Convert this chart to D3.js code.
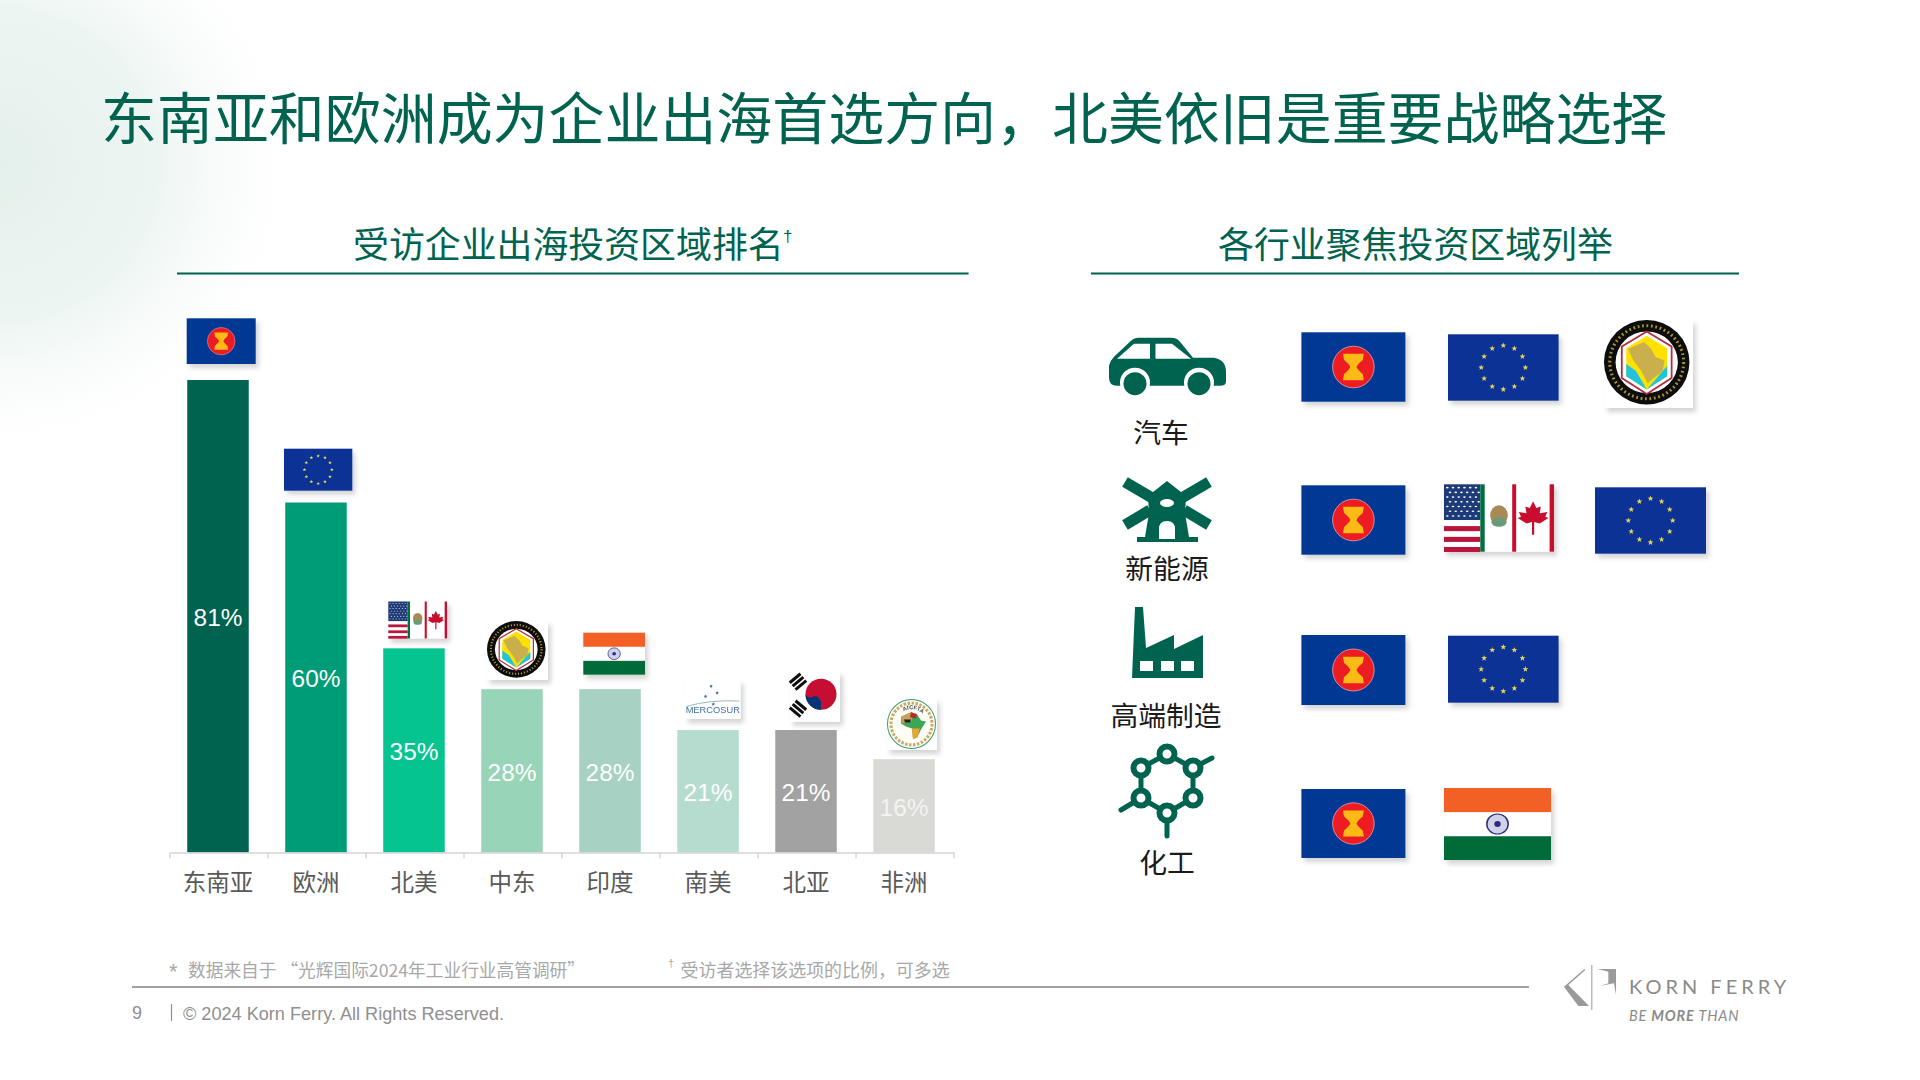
<!DOCTYPE html>
<html><head><meta charset="utf-8">
<script src="https://cdn.jsdelivr.net/npm/d3@7/dist/d3.min.js"></script>
<style>html,body{margin:0;background:#fff}svg{display:block}
text{font-family:"Noto Sans CJK SC","Liberation Sans",sans-serif}
.lat{font-family:"Liberation Sans",Arial,sans-serif}</style></head>
<body><svg id="c" width="1920" height="1080"></svg>
<script>
const titleText="东南亚和欧洲成为企业出海首选方向，北美依旧是重要战略选择";
const leftTitle="受访企业出海投资区域排名", rightTitle="各行业聚焦投资区域列举";
const categories=["东南亚","欧洲","北美","中东","印度","南美","北亚","非洲"];
const values=[81,60,35,28,28,21,21,16];
const barColors=["#00634f","#009b77","#05c48f","#98d5b8","#a6d1c3","#b6dccf","#a2a2a2","#d9d9d6"];
const barFlags=["asean","eu","usmca","gcc","india","mercosur","korea","afcfta"];
const barFlagBoxes=[[186.7,318.3,69,45.7],[284,448.7,68.3,42],[388.3,601.5,58.7,37],[487,621,61,59],[583.3,632.7,61.7,42],[685,680,55.5,39],[790,671.7,50,50],[887,699,50,51]];
const industries=["汽车","新能源","高端制造","化工"];
const industryLabelX=[1161,1167,1166,1167], industryLabelY=[432.5,569,716,863];
const industryFlags=[["asean","eu","gcc"],["asean","usmca","eu"],["asean","eu"],["asean","india"]];
const industryBoxes=[
 [[1301.4,332.3,104,69.4],[1448,334.3,110.6,66.4],[1604,320,89,88]],
 [[1301.4,485.3,104,69.4],[1444,484.3,110,67.4],[1595,487.3,111,66.4]],
 [[1301.4,635,104,70],[1448,635.7,110.6,67]],
 [[1301.4,789,104,69],[1444,788,107,72]]];
const footnote1="数据来自于 “光辉国际2024年工业行业高管调研”", footnote2="受访者选择该选项的比例，可多选";
const copyright="© 2024 Korn Ferry. All Rights Reserved.";

const GREEN="#00634f";
const svg=d3.select("#c");
const defs=svg.append("defs");
const rg=defs.append("radialGradient").attr("id","bg");
[[0,"#e4f0eb",1],[.55,"#e9f3ef",.85],[1,"#f6faf8",0]].forEach(s=>rg.append("stop").attr("offset",s[0]).attr("stop-color",s[1]).attr("stop-opacity",s[2]));
const sf=defs.append("filter").attr("id","sh").attr("x","-20%").attr("y","-20%").attr("width","150%").attr("height","150%");
sf.append("feDropShadow").attr("dx",3).attr("dy",4).attr("stdDeviation",2.5).attr("flood-color","#000").attr("flood-opacity",.17);

svg.append("ellipse").attr("cx",-10).attr("cy",165).attr("rx",300).attr("ry",280).attr("fill","url(#bg)");

// Titles
svg.append("text").attr("x",101).attr("y",119).attr("dy",".36em").attr("font-size",55.95).attr("fill",GREEN).text(titleText);
svg.append("text").attr("x",353).attr("y",245).attr("dy",".36em").attr("font-size",35.9).attr("fill",GREEN).text(leftTitle);
svg.append("text").attr("class","lat").attr("x",783).attr("y",242).attr("font-size",17).attr("fill",GREEN).text("†");
svg.append("text").attr("x",1415.5).attr("y",245).attr("dy",".36em").attr("text-anchor","middle").attr("font-size",35.9).attr("fill",GREEN).text(rightTitle);
[[177,968.6],[1091,1739]].forEach(d=>svg.append("line").attr("x1",d[0]).attr("x2",d[1]).attr("y1",273.5).attr("y2",273.5).attr("stroke",GREEN).attr("stroke-width",2.2));

// Bars
const x=d3.scaleBand().domain(categories).range([169,953]).paddingInner(.3724).paddingOuter(.186);
const y=d3.scaleLinear().domain([0,81]).range([852.5,380]);
svg.selectAll("rect.bar").data(categories).join("rect").attr("class","bar")
 .attr("x",d=>x(d)).attr("width",x.bandwidth())
 .attr("y",(d,i)=>y(values[i])).attr("height",(d,i)=>y(0)-y(values[i]))
 .attr("fill",(d,i)=>barColors[i]);
svg.selectAll("text.val").data(categories).join("text").attr("class","val lat")
 .attr("x",d=>x(d)+x.bandwidth()/2).attr("y",(d,i)=>(y(values[i])+y(0))/2+1).attr("dy",".36em")
 .attr("text-anchor","middle").attr("font-size",24.4).attr("fill",(d,i)=>i==7?"#f4f4f2":"#fff")
 .text((d,i)=>values[i]+"%");
// Axis
const axisG=svg.append("g").attr("transform","translate(0,852.5)");
axisG.call(d3.axisBottom(x).tickSize(0).tickPadding(22));
axisG.select(".domain").attr("stroke","#d4d4d4").attr("stroke-width",1.6).attr("transform","translate(1,0)");
axisG.selectAll("text").attr("font-size",23.5).attr("fill","#595959").attr("font-family",'"Noto Sans CJK SC"');
d3.range(9).forEach(i=>axisG.append("line").attr("x1",170+i*x.step()).attr("x2",170+i*x.step()).attr("y1",0).attr("y2",6).attr("stroke","#d4d4d4").attr("stroke-width",1.4));

// Flags
function star(g,cx,cy,r,fill,sx=1){
  const p=d3.range(10).map(i=>{const a=-Math.PI/2+i*Math.PI/5,q=i%2?r*.42:r;return [cx+q*Math.cos(a)*sx,cy+q*Math.sin(a)];});
  g.append("polygon").attr("points",p.map(d=>d.join(",")).join(" ")).attr("fill",fill);
}
const flags={
 asean(g,w,h){
  g.append("rect").attr("width",100).attr("height",100).attr("fill","#003893");
  g.append("ellipse").attr("cx",50).attr("cy",50).attr("rx",20).attr("ry",30).attr("fill","#ed1c24").attr("stroke","#f3b6bb").attr("stroke-width",.8);
  g.append("path").attr("d","M40,31 L60,31 L59,40 Q54,46 53,50 Q54,54 59,60 L60,69 L40,69 L41,60 Q46,54 47,50 Q46,46 41,40 Z").attr("fill","#fdb913");
 },
 eu(g,w,h){
  g.append("rect").attr("width",100).attr("height",100).attr("fill","#0a3296");
  d3.range(12).forEach(i=>{const a=i*Math.PI/6;star(g,50+20*Math.sin(a),50-33*Math.cos(a),4.6,"#e3d25c",h/w);});
 },
 usmca(g,w,h){
  g.append("rect").attr("width",100).attr("height",100).attr("fill","#fff");
  g.append("rect").attr("width",33).attr("height",53).attr("fill","#1f3a78");
  d3.range(7).forEach(r=>d3.range(6).forEach(c=>g.append("circle").attr("cx",3+c*5.2+(r%2?2.5:0)).attr("cy",5+r*7).attr("r",1.2).attr("fill","#fff")));
  [62,78,93].forEach(v=>g.append("rect").attr("y",v).attr("width",33).attr("height",7.5).attr("fill","#b8173c"));
  g.append("rect").attr("x",33).attr("width",4).attr("height",100).attr("fill","#00703c");
  g.append("rect").attr("x",62).attr("width",3.6).attr("height",100).attr("fill","#c8102e");
  g.append("rect").attr("x",96).attr("width",4).attr("height",100).attr("fill","#c8102e");
  g.append("ellipse").attr("cx",50).attr("cy",46).attr("rx",8).attr("ry",15).attr("fill","#a98a55");
  g.append("ellipse").attr("cx",50).attr("cy",56).attr("rx",7).attr("ry",7).attr("fill","#6b9a78");
  g.append("path").attr("d","M81,25 L84,35 L88,33 L87,43 L94,41 L92,48 L95,50 L87,58 L82,56 L82,75 L80,75 L80,56 L75,58 L67,50 L70,48 L68,41 L75,43 L74,33 L78,35 Z").attr("fill","#c8102e");
 },
 india(g,w,h){
  g.append("rect").attr("width",100).attr("height",100).attr("fill","#fff");
  g.append("rect").attr("width",100).attr("height",33.5).attr("fill","#f26027");
  g.append("rect").attr("y",67).attr("width",100).attr("height",33).attr("fill","#006b38");
  g.append("ellipse").attr("cx",50).attr("cy",50).attr("rx",10).attr("ry",14).attr("fill","#cfd2e8").attr("stroke","#2a2f7a").attr("stroke-width",1.4);
  g.append("ellipse").attr("cx",50).attr("cy",50).attr("rx",3).attr("ry",4).attr("fill","#2a2f7a");
 },
 gcc(g,w,h){
  g.append("rect").attr("width",100).attr("height",100).attr("fill","#fff");
  g.append("ellipse").attr("cx",48).attr("cy",48).attr("rx",48).attr("ry",48).attr("fill","#0a0a0a");
  g.append("ellipse").attr("cx",48).attr("cy",48).attr("rx",41.5).attr("ry",41.5).attr("fill","none").attr("stroke","#a8922f").attr("stroke-width",3.5).attr("stroke-dasharray","2 3");
  g.append("ellipse").attr("cx",48).attr("cy",48).attr("rx",35).attr("ry",35).attr("fill","#fff");
  g.append("polygon").attr("points","48,13 76,30 76,66 48,84 20,66 20,30").attr("fill","#fff").attr("stroke","#b32a3a").attr("stroke-width",2);
  g.append("polygon").attr("points","48,18 71,32 71,64 48,79 25,64 25,32").attr("fill","#ffe100");
  g.append("path").attr("d","M25,50 L36,58 L48,79 L25,64Z M48,79 L71,64 L71,52 L60,65Z").attr("fill","#20c4dd");
  g.append("path").attr("d","M27,33 L45,25 L53,33 L58,42 L68,46 L66,58 L56,66 L49,72 L42,58 L33,46 Z").attr("fill","#c9b04e");
 },
 mercosur(g,w,h){
  g.append("rect").attr("width",100).attr("height",100).attr("fill","#fff");
  [[47,16,5],[58,33,5],[37,42,5],[51,62,5]].forEach(s=>star(g,s[0],s[1],s[2],"#2f5f9e",h/w));
  g.append("path").attr("d","M2,68 Q45,50 98,54").attr("fill","none").attr("stroke","#6aa58e").attr("stroke-width",1.5);
 },
 korea(g,w,h){
  g.append("rect").attr("width",100).attr("height",100).attr("fill","#fff");
  g.append("circle").attr("cx",62).attr("cy",45).attr("r",31).attr("fill","#c60c30");
  g.append("path").attr("d","M62,76 A31,31 0 0 1 31,45 Q36,55 46,50 Q56,46 62,60Z").attr("fill","#003478");
  [[16,20,-40],[16,74,40]].forEach(t=>{const a=g.append("g").attr("transform",`translate(${t[0]},${t[1]}) rotate(${t[2]+(t[2]<0?-90:90)+90})`);
   [-9,0,9].forEach(o=>a.append("rect").attr("x",-14).attr("y",o-3).attr("width",28).attr("height",6).attr("fill","#111"));});
 },
 afcfta(g,w,h){
  g.append("rect").attr("width",100).attr("height",100).attr("fill","#fff");
  g.append("circle").attr("cx",49).attr("cy",49).attr("r",48).attr("fill","#fdfdf6").attr("stroke","#3d9a6b").attr("stroke-width",2);
  g.append("circle").attr("cx",49).attr("cy",49).attr("r",41).attr("fill","none").attr("stroke","#c9a968").attr("stroke-width",6).attr("stroke-dasharray","5 3");
  g.append("path").attr("d","M28,35 L48,26 L60,30 L68,42 L78,44 L68,60 L60,76 L52,78 L50,58 L38,54 L28,48Z").attr("fill","#3aa655");
  g.append("path").attr("d","M28,35 L48,26 L50,42 L30,48Z").attr("fill","#c9a060");
  g.append("path").attr("d","M50,58 L66,58 L60,76 L52,78Z").attr("fill","#f0a32d");
  g.append("path").attr("d","M48,26 L60,30 L58,38 L46,36Z").attr("fill","#b52a2a");
  g.append("path").attr("d","M34,40 L48,40 L46,46 L36,46Z").attr("fill","#222");
  g.append("path").attr("id","afarc").attr("d","M26,30 A32,32 0 0 1 72,30").attr("fill","none");
  g.append("text").attr("class","lat").attr("font-size",11).attr("font-weight",700).attr("fill","#444").append("textPath").attr("href","#afarc").attr("startOffset","18%").text("AfCFTA");
 }
};
function drawFlag(name,b){
  const o=svg.append("g").attr("class","flag").attr("filter","url(#sh)");
  const g=o.append("g").attr("transform",`translate(${b[0]},${b[1]}) scale(${b[2]/100},${b[3]/100})`);
  flags[name](g,b[2],b[3]);
  if(name=="mercosur") o.append("text").attr("class","lat").attr("x",b[0]+b[2]/2).attr("y",b[1]+b[3]-6).attr("text-anchor","middle").attr("font-size",9.3).attr("fill","#3f6ea8").text("MERCOSUR");
}
barFlags.forEach((f,i)=>drawFlag(f,barFlagBoxes[i]));
industryFlags.forEach((row,r)=>row.forEach((f,c)=>drawFlag(f,industryBoxes[r][c])));

// Industry labels
svg.selectAll("text.ind").data(industries).join("text").attr("class","ind")
 .attr("x",(d,i)=>industryLabelX[i]).attr("y",(d,i)=>industryLabelY[i]).attr("dy",".36em")
 .attr("text-anchor","middle").attr("font-size",27.8).attr("fill","#1a1a1a").text(d=>d);

// Icons
const car=svg.append("g").attr("transform","translate(1109,337.7)");
car.append("path").attr("d","M0,28 Q1,23 5,19 L22,3 Q25,0 30,0 L62,0 Q68,0 71,4 L84,20 L105,20 Q117,22 117,34 L117,44 Q117,48 111,48 L8,48 Q0,48 0,40Z").attr("fill",GREEN);
car.append("polygon").attr("points","8,21 25,6 41,6 41,21").attr("fill","#fff");
car.append("polygon").attr("points","46.5,6 63,6 82,21 46.5,21").attr("fill","#fff");
[26,90].forEach(cx=>{car.append("circle").attr("cx",cx).attr("cy",45).attr("r",15).attr("fill","#fff");car.append("circle").attr("cx",cx).attr("cy",46).attr("r",11.5).attr("fill",GREEN);});

const mill=svg.append("g").attr("transform","translate(1122,477)");
[[3,5,32,22],[87,5,58,22],[3,48,28,33],[87,48,62,33]].forEach(l=>mill.append("line").attr("x1",l[0]).attr("y1",l[1]).attr("x2",l[2]).attr("y2",l[3]).attr("stroke",GREEN).attr("stroke-width",11));
mill.append("polygon").attr("points","45,4 64,19 63,36 67,60 76,60 76,65 15,65 15,60 23,60 27,36 26,19").attr("fill",GREEN);
mill.append("ellipse").attr("cx",45).attr("cy",26).attr("rx",7).attr("ry",4).attr("fill","#fff");
mill.append("path").attr("d","M37,62 L37,52 Q37,44 45,44 Q53,44 53,52 L53,62Z").attr("fill","#fff");

const fac=svg.append("g").attr("transform","translate(1132,607)");
fac.append("polygon").attr("points","0,71 3,0 11,0 14,41 42,28 42,42 71,28 71,71").attr("fill",GREEN);
[8,29,49].forEach(v=>fac.append("rect").attr("x",v).attr("y",54).attr("width",13).attr("height",10).attr("fill","#fff"));

const nodes=[[1167,754],[1193,768],[1193,798],[1167,813],[1141,798],[1141,768]];
const mol=svg.append("g");
nodes.forEach((n,i)=>{const m=nodes[(i+1)%6];mol.append("line").attr("x1",n[0]).attr("y1",n[1]).attr("x2",m[0]).attr("y2",m[1]).attr("stroke",GREEN).attr("stroke-width",5);});
[[1193,768,1212,758],[1141,798,1121,810],[1167,813,1167,836]].forEach(l=>mol.append("line").attr("x1",l[0]).attr("y1",l[1]).attr("x2",l[2]).attr("y2",l[3]).attr("stroke",GREEN).attr("stroke-width",5).attr("stroke-linecap","round"));
nodes.forEach(n=>{mol.append("circle").attr("cx",n[0]).attr("cy",n[1]).attr("r",7.5).attr("fill","#fff").attr("stroke",GREEN).attr("stroke-width",6);});

// Footer
svg.append("text").attr("class","lat").attr("x",169).attr("y",979).attr("font-size",22).attr("fill","#a8a8a8").text("*");
svg.append("text").attr("x",188).attr("y",971).attr("dy",".36em").attr("font-size",17.7).attr("fill","#a8a8a8").text(footnote1);
svg.append("text").attr("class","lat").attr("x",668).attr("y",967).attr("font-size",11).attr("fill","#a8a8a8").text("†");
svg.append("text").attr("x",680.6).attr("y",971).attr("dy",".36em").attr("font-size",17.95).attr("fill","#a8a8a8").text(footnote2);
svg.append("line").attr("x1",132).attr("x2",1529).attr("y1",987).attr("y2",987).attr("stroke","#a0a0a0").attr("stroke-width",2);
svg.append("text").attr("class","lat").attr("x",132).attr("y",1013).attr("dy",".36em").attr("font-size",18).attr("fill","#8f8f8f").text("9");
svg.append("line").attr("x1",171.5).attr("x2",171.5).attr("y1",1004).attr("y2",1021).attr("stroke","#8f8f8f").attr("stroke-width",1.2);
svg.append("text").attr("class","lat").attr("x",183).attr("y",1013).attr("dy",".36em").attr("font-size",18.12).attr("fill","#8f8f8f").text(copyright);

// Logo
const lg=svg.append("g").attr("transform","translate(1540,950) scale(.3333)");
lg.append("polygon").attr("points","72,110 133,57 136,60 85,105 147,168 115,168").attr("fill","#9a9a9a");
lg.append("rect").attr("x",154).attr("y",45).attr("width",3).attr("height",135).attr("fill","#9a9a9a");
lg.append("polygon").attr("points","172,57 228,57 228,135 222,100 180,108 205,100 205,65").attr("fill","#9a9a9a");
svg.append("text").attr("x",1629).attr("y",987).attr("dy",".36em").style("font-family","Lato").attr("font-size",20).attr("letter-spacing",4).attr("fill","#8a8a8a").text("KORN FERRY");
const bm=svg.append("text").attr("x",1629).attr("y",1015.5).attr("dy",".36em").style("font-family","Lato").attr("font-style","italic").attr("font-size",14.5).attr("letter-spacing",.8).attr("fill","#8a8a8a");
bm.append("tspan").text("BE ");bm.append("tspan").attr("font-weight",700).text("MORE");bm.append("tspan").text(" THAN");
</script></body></html>
